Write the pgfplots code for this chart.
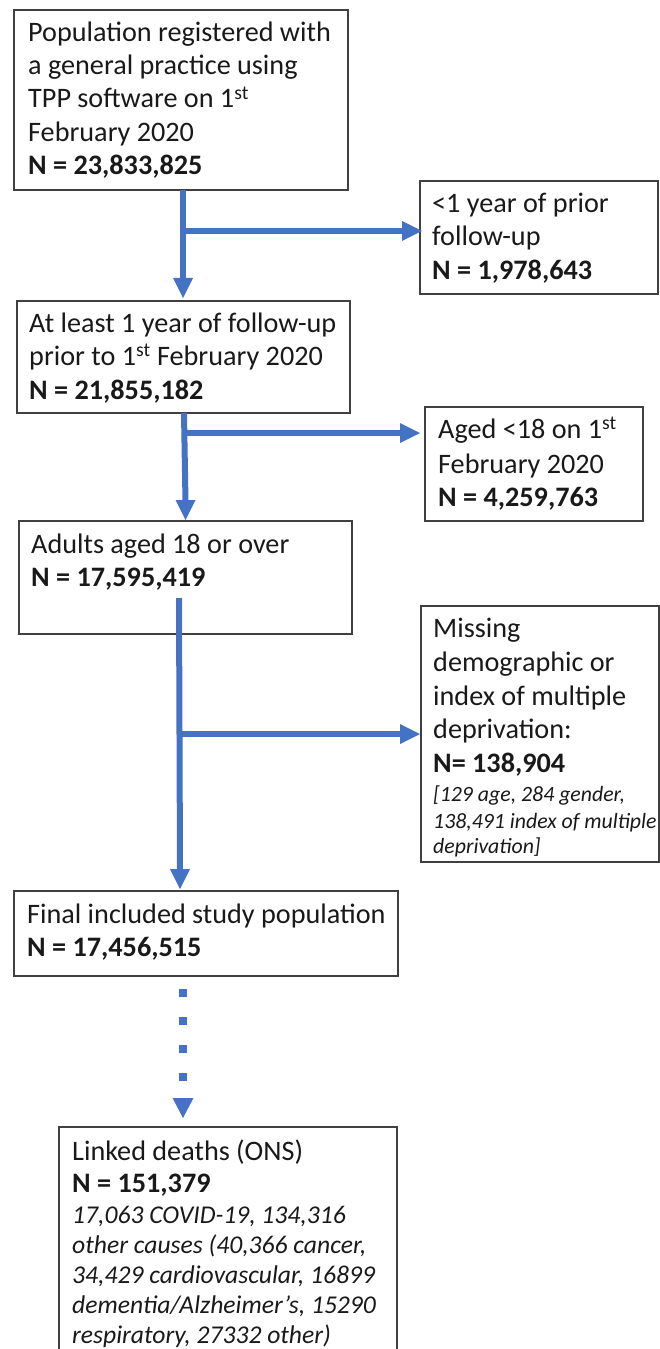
\documentclass[border=0pt]{standalone}
\usepackage{pgfplots}
\pgfplotsset{compat=1.18}
\usepackage{fontspec}
\setmainfont{Carlito}
\definecolor{arr}{HTML}{4472C4}
\definecolor{bx}{HTML}{404040}
\newcommand\mf{\fontsize{28.2bp}{30bp}\selectfont}
\newcommand\itA{\fontsize{21.8bp}{24bp}\selectfont\itshape}
\newcommand\itB{\fontsize{25.6bp}{28bp}\selectfont\itshape}
\begin{document}
\begin{tikzpicture}
\begin{axis}[at={(0,0)},anchor=south west,width=660bp,height=1349bp,scale only axis,
  xmin=0,xmax=660,ymin=0,ymax=1349,y dir=reverse,hide axis,clip=false]
% boxes
\addplot[bx,line width=1.3bp,line join=miter] coordinates {(14,10)(348,10)(348,190)(14,190)} -- cycle;
\addplot[bx,line width=1.3bp,line join=miter] coordinates {(420,181)(658,181)(658,294)(420,294)} -- cycle;
\addplot[bx,line width=1.3bp,line join=miter] coordinates {(17,301)(350,301)(350,413)(17,413)} -- cycle;
\addplot[bx,line width=1.3bp,line join=miter] coordinates {(425,407)(643,407)(643,521)(425,521)} -- cycle;
\addplot[bx,line width=1.3bp,line join=miter] coordinates {(19,521)(352,521)(352,634)(19,634)} -- cycle;
\addplot[bx,line width=1.3bp,line join=miter] coordinates {(421,606)(659,606)(659,862)(421,862)} -- cycle;
\addplot[bx,line width=1.3bp,line join=miter] coordinates {(14,891)(398,891)(398,976)(14,976)} -- cycle;
\addplot[bx,line width=1.3bp,line join=miter] coordinates {(59,1360)(59,1127)(397,1127)(397,1360)};
% arrows
\addplot[arr,line width=6bp] coordinates {(183,190)(183,280)};
\addplot[arr,line width=6bp] coordinates {(183,231)(404,231)};
\addplot[arr,fill=arr,draw=none] coordinates {(173,278)(193,278)(183,298)} -- cycle;
\addplot[arr,fill=arr,draw=none] coordinates {(402,221)(402,241)(422,231)} -- cycle;
\addplot[arr,line width=6bp] coordinates {(184,413)(185.5,502)};
\addplot[arr,line width=6bp] coordinates {(184,433)(402,433)};
\addplot[arr,fill=arr,draw=none] coordinates {(175.5,500)(195.5,500)(185.6,520)} -- cycle;
\addplot[arr,fill=arr,draw=none] coordinates {(400,423)(400,443)(420,433)} -- cycle;
\addplot[arr,line width=6bp] coordinates {(179,598)(180,871)};
\addplot[arr,line width=6bp] coordinates {(180,734)(402,734)};
\addplot[arr,fill=arr,draw=none] coordinates {(170,869)(190,869)(180,889)} -- cycle;
\addplot[arr,fill=arr,draw=none] coordinates {(400,724)(400,744)(420,734)} -- cycle;
\addplot[arr,only marks,mark=square*,mark size=3.5bp,mark options={draw=none,fill=arr}] coordinates {(183,993)(183,1021)(183,1049)(183,1077)};
\addplot[arr,fill=arr,draw=none] coordinates {(172.5,1098)(193.5,1098)(183,1118)} -- cycle;
% text
\newcommand\tl[3]{\node[anchor=base west,inner sep=0,font=\mf,text=black!90] at (axis cs:#1,#2) {#3};}
\newcommand\ta[3]{\node[anchor=base west,inner sep=0,font=\itA,text=black!90] at (axis cs:#1,#2) {#3};}
\newcommand\tb[3]{\node[anchor=base west,inner sep=0,font=\itB,text=black!90] at (axis cs:#1,#2) {#3};}
\tl{28}{42}{Population registered with}
\tl{28}{75}{a general practice using}
\tl{28}{108}{TPP software on 1\textsuperscript{st}}
\tl{28}{142}{February 2020}
\tl{28}{175}{\bfseries N = 23,833,825}
\tl{432}{213}{<1 year of prior}
\tl{432}{246}{follow-up}
\tl{432}{279}{\bfseries N = 1,978,643}
\tl{29}{332}{At least 1 year of follow-up}
\tl{29}{365}{prior to 1\textsuperscript{st} February 2020}
\tl{29}{399}{\bfseries N = 21,855,182}
\tl{438}{438}{Aged <18 on 1\textsuperscript{st}}
\tl{438}{473}{February 2020}
\tl{438}{506}{\bfseries N = 4,259,763}
\tl{31}{553}{Adults aged 18 or over}
\tl{31}{586}{\bfseries N = 17,595,419}
\tl{433}{637}{Missing}
\tl{433}{671}{demographic or}
\tl{433}{705}{index of multiple}
\tl{433}{738}{deprivation:}
\tl{433}{772}{\bfseries N= 138,904}
\ta{433}{801}{[129 age, 284 gender,}
\ta{433}{828}{138,491 index of multiple}
\ta{433}{853}{deprivation]}
\tl{27}{923}{Final included study population}
\tl{27}{956}{\bfseries N = 17,456,515}
\tl{72}{1160}{Linked deaths (ONS)}
\tl{72}{1192}{\bfseries N = 151,379}
\tb{72}{1223}{17,063 COVID-19, 134,316}
\tb{72}{1253}{other causes (40,366 cancer,}
\tb{72}{1283}{34,429 cardiovascular, 16899}
\tb{72}{1313}{dementia/Alzheimer’s, 15290}
\tb{72}{1343}{respiratory, 27332 other)}
\end{axis}
\pgfresetboundingbox
\path (0,0) rectangle (660bp,1349bp);
\end{tikzpicture}
\end{document}
